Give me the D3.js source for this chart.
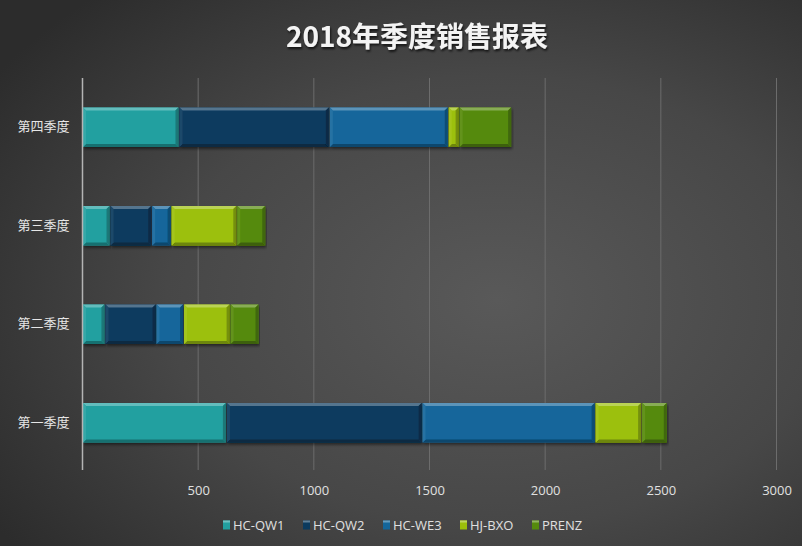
<!DOCTYPE html>
<html><head><meta charset="utf-8">
<script src="https://cdn.jsdelivr.net/npm/d3@7/dist/d3.min.js"></script>
<style>html,body{margin:0;padding:0;background:#3a3a3a;}svg{display:block;}</style>
</head><body>
<svg id="chart" width="802" height="546"></svg>
<script>
const categories = ["第一季度","第二季度","第三季度","第四季度"];
const seriesNames = ["HC-QW1","HC-QW2","HC-WE3","HJ-BXO","PRENZ"];
const HC_QW1 = [622, 97, 119, 417];
const HC_QW2 = [846, 221, 180, 650];
const HC_WE3 = [748, 119, 84, 514];
const HJ_BXO = [201, 201, 284, 47];
const PRENZ  = [111, 125, 125, 227];
const xTicks = [500,1000,1500,2000,2500,3000];
const colors = ["#22a0a0","#0b3a5e","#14669b","#9cc00a","#558a0c"];

const seriesValues = [HC_QW1,HC_QW2,HC_WE3,HJ_BXO,PRENZ];
const data = categories.map((c,i)=>{const o={cat:c}; seriesNames.forEach((s,j)=>o[s]=seriesValues[j][i]); return o;});

const svg = d3.select("#chart");
const W=802,H=546;
const defs = svg.append("defs");
const bg = defs.append("radialGradient").attr("id","bg").attr("cx","0.62").attr("cy","0.55").attr("r","0.75");
bg.append("stop").attr("offset","0").attr("stop-color","#595959");
bg.append("stop").attr("offset","0.55").attr("stop-color","#474747");
bg.append("stop").attr("offset","1").attr("stop-color","#2c2c2c");
svg.append("rect").attr("width",W).attr("height",H).attr("fill","url(#bg)");

const shadow = defs.append("filter").attr("id","sh").attr("x","-5%").attr("y","-20%").attr("width","110%").attr("height","150%");
shadow.append("feDropShadow").attr("dx",1).attr("dy",2).attr("stdDeviation",1.5).attr("flood-color","#000").attr("flood-opacity",0.5);
const tsh = defs.append("filter").attr("id","tsh");
tsh.append("feDropShadow").attr("dx",1).attr("dy",2).attr("stdDeviation",1.2).attr("flood-color","#000").attr("flood-opacity",0.7);

const x = d3.scaleLinear().domain([0,3000]).range([82.5,776.5]);
const y = d3.scaleBand().domain(categories.slice().reverse()).range([78,472]).paddingInner(0.6).paddingOuter(0.3);

// gridlines
svg.append("g").selectAll("line").data(xTicks).join("line")
  .attr("x1",d=>x(d)).attr("x2",d=>x(d)).attr("y1",78).attr("y2",470)
  .attr("stroke","#6c6c6c").attr("stroke-width",1);

// x tick labels
const xAxis = svg.append("g").attr("transform","translate(0,470)")
  .call(d3.axisBottom(x).tickValues(xTicks).tickFormat(d3.format("d")).tickSize(0).tickPadding(16));
xAxis.select(".domain").remove();
xAxis.selectAll("text").attr("fill","#e0e0e0").attr("font-size","13px").attr("font-family","'Open Sans','Noto Sans',sans-serif");

// y axis
const yAxis = svg.append("g").attr("transform","translate(82.5,0)")
  .call(d3.axisLeft(y).tickSize(0).tickPadding(13));
yAxis.select(".domain").remove();
yAxis.selectAll("text").attr("fill","#e6e6e6").attr("font-size","13px").attr("font-family","'Noto Sans CJK SC',sans-serif");

const stack = d3.stack().keys(seriesNames)(data);
const b = 3;
function shade(c,k){return k>0?d3.interpolateRgb(c,"#ffffff")(k):d3.interpolateRgb(c,"#000000")(-k);}
const bars = svg.append("g");
stack.forEach((layer,j)=>{
  const col = colors[j];
  layer.forEach(d=>{
    const x0=x(d[0])+0.5, x1=x(d[1])-0.5, y0=y(d.data.cat), y1=y0+y.bandwidth();
    const g = bars.append("g").attr("filter","url(#sh)");
    g.append("rect").attr("x",x0).attr("y",y0).attr("width",x1-x0).attr("height",y1-y0).attr("fill",col);
    const bb=Math.min(b,(x1-x0)/2);
    g.append("polygon").attr("points",[[x0,y0],[x1,y0],[x1-bb,y0+b],[x0+bb,y0+b]].join(" ")).attr("fill",shade(col,0.3));
    g.append("polygon").attr("points",[[x0,y1],[x1,y1],[x1-bb,y1-b],[x0+bb,y1-b]].join(" ")).attr("fill",shade(col,-0.3));
    g.append("polygon").attr("points",[[x0,y0],[x0+bb,y0+b],[x0+bb,y1-b],[x0,y1]].join(" ")).attr("fill",shade(col,0.08));
    g.append("polygon").attr("points",[[x1,y0],[x1-bb,y0+b],[x1-bb,y1-b],[x1,y1]].join(" ")).attr("fill",shade(col,-0.25));
  });
});

// left axis line
svg.append("line").attr("x1",82.5).attr("x2",82.5).attr("y1",78).attr("y2",470).attr("stroke","#b4b4b4").attr("stroke-width",1.5);

// title
svg.append("text").attr("x",417).attr("y",47).attr("text-anchor","middle")
  .attr("font-family","'Noto Sans CJK SC',sans-serif").attr("font-weight","bold").attr("font-size","28px")
  .attr("fill","#f4f4f4").attr("filter","url(#tsh)").text("2018年季度销售报表");

// legend
const legX = [223, 303, 383, 460, 532];
const lg = svg.append("g");
seriesNames.forEach((s,j)=>{
  const gx = legX[j], gy = 525;
  lg.append("rect").attr("x",gx).attr("y",gy-4.5).attr("width",7).attr("height",9).attr("fill",colors[j]);
  lg.append("rect").attr("x",gx).attr("y",gy-4.5).attr("width",7).attr("height",2).attr("fill",shade(colors[j],0.35));
  lg.append("text").attr("x",gx+10).attr("y",gy).attr("dy","0.35em").attr("fill","#e0e0e0")
    .attr("font-size","13px").attr("font-family","'Open Sans','Noto Sans',sans-serif").text(s);
});
</script>
</body></html>
